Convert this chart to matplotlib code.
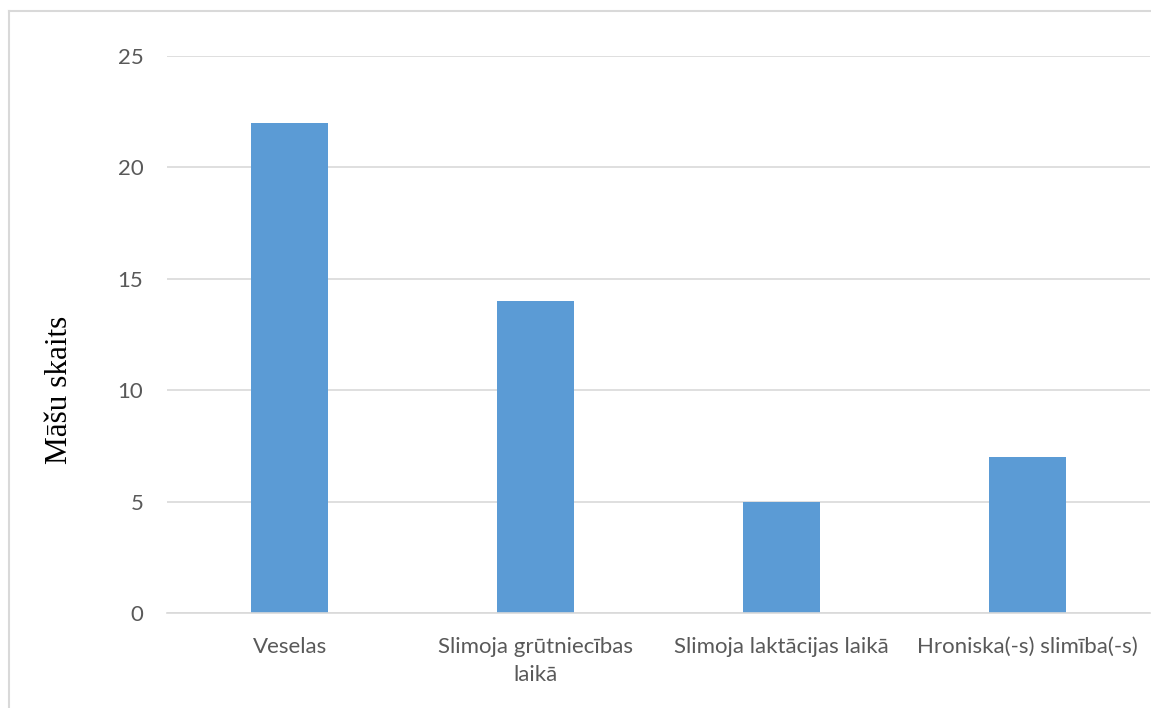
import matplotlib
matplotlib.use("Agg")
import matplotlib.pyplot as plt
from matplotlib.lines import Line2D

categories = ["Veselas", "Slimoja grūtniecības\nlaikā", "Slimoja laktācijas laikā", "Hroniska(-s) slimība(-s)"]
values = [22, 14, 5, 7]
yticks = [0, 5, 10, 15, 20, 25]

W, H = 1151, 708
fig = plt.figure(figsize=(W / 100, H / 100), dpi=100)
ax = fig.add_axes([167 / W, 1 - 613 / H, (1150 - 167) / W, (613 - 56) / H])

x = list(range(len(categories)))
ax.bar(x, values, width=0.313, color="#5B9BD5", zorder=3)
ax.set_xlim(-0.5, len(categories) - 0.5)
ax.set_ylim(0, 25)
ax.set_yticks(yticks)
ax.set_xticks(x)
ax.set_xticklabels(categories, fontfamily="Lato", fontsize=16, color="#595959", linespacing=1.55)
ax.set_yticklabels([str(v) for v in yticks], fontfamily="Lato", fontsize=16, color="#595959")
ax.tick_params(axis="both", length=0)
ax.tick_params(axis="x", pad=17)
ax.tick_params(axis="y", pad=17)
ax.grid(axis="y", color="#D9D9D9", linewidth=1.2, zorder=0)
for s in ["top", "right", "left"]:
    ax.spines[s].set_visible(False)
ax.spines["bottom"].set_color("#D9D9D9")
ax.spines["bottom"].set_linewidth(1.2)
ax.spines["bottom"].set_zorder(4)

fig.text(60 / W, 1 - 390 / H, "Māšu skaits", rotation=90, ha="center", va="center",
         fontfamily="Liberation Serif", fontsize=22.5, color="black")

# outer chart border (cropped on right and bottom)
fig.add_artist(Line2D([8.5 / W, 1.01], [1 - 10.5 / H, 1 - 10.5 / H], transform=fig.transFigure, color="#D9D9D9", linewidth=1.5))
fig.add_artist(Line2D([8.5 / W, 8.5 / W], [-0.01, 1 - 10.5 / H], transform=fig.transFigure, color="#D9D9D9", linewidth=1.5))

fig.savefig("out.png", dpi=100)
